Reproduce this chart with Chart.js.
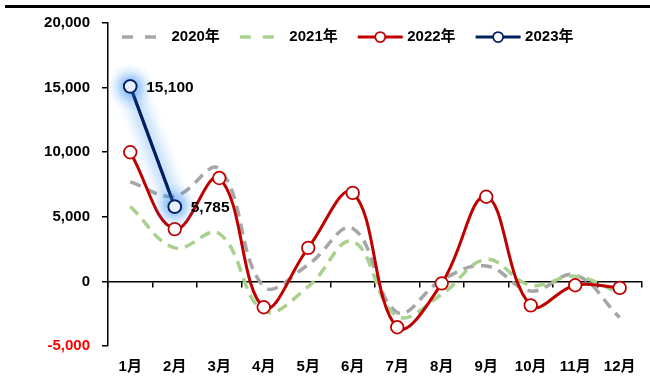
<!DOCTYPE html>
<html>
<head>
<meta charset="utf-8">
<script src="https://cdn.jsdelivr.net/npm/chart.js@4"></script>
<style>
  html, body { margin: 0; padding: 0; background: #fff; }
  #wrap { position: relative; width: 650px; height: 376px; overflow: hidden; }
  #wrap canvas { position: absolute; left: 0; top: 0; }
  #rule { position: absolute; left: 5px; right: 0; top: 5px; height: 2.5px; background: #000; }
</style>
</head>
<body>
<div id="wrap">
  <canvas id="chart" width="650" height="376"></canvas>
  <div id="rule"></div>
</div>
<script>
// Categories and series
const months = ['1月', '2月', '3月', '4月', '5月', '6月', '7月', '8月', '9月', '10月', '11月', '12月'];
const yearNames = ['2020年', '2021年', '2022年', '2023年'];
const values2020 = [7700, 6600, 8700, -400, 1300, 4100, -2400, 100, 1200, -750, 500, -2800];
const values2021 = [5800, 2600, 3700, -2300, -400, 3100, -2700, -1000, 1700, -300, 400, -900];
const values2022 = [10000, 4050, 8000, -2000, 2600, 6850, -3550, -150, 6550, -1850, -300, -500];
const values2023 = [15100, 5785];

// Value axis range
const yMin = -5000;
const yMax = 20000;
const yStep = 5000;

const FONT = '"Liberation Sans", "Noto Sans CJK SC", Arial, sans-serif';
const fmt = v => Number(v).toLocaleString('en-US');

const GRAY = '#A6A6A6';
const GREEN = '#A9D18E';
const RED = '#C00000';
const NAVY = '#002060';

// Soft blue halo behind the 2023 series (drawn twice for a fuller glow)
const glowPlugin = {
  id: 'glow',
  beforeDatasetDraw(chart, args) {
    if (args.index !== 3) return;
    const ctx = chart.ctx;
    ctx.save();
    ctx.shadowColor = 'rgba(70,150,235,1)';
    ctx.shadowBlur = 16;
  },
  afterDatasetDraw(chart, args) {
    if (args.index !== 3) return;
    args.meta.controller.draw();
    chart.ctx.restore();
  }
};

// Value labels beside the 2023 points
const valueLabels = {
  id: 'valueLabels',
  afterDatasetsDraw(chart) {
    const ctx = chart.ctx;
    const meta = chart.getDatasetMeta(3);
    const data = chart.data.datasets[3].data;
    ctx.save();
    ctx.font = 'bold 15.5px ' + FONT;
    ctx.fillStyle = '#000';
    ctx.textAlign = 'left';
    ctx.textBaseline = 'middle';
    meta.data.forEach((pt, i) => {
      ctx.fillText(fmt(data[i]), pt.x + 16, pt.y + 1);
    });
    ctx.restore();
  }
};

// The legend takes no room of its own: it floats over the top of the plot
const legendFloat = {
  id: 'legendFloat',
  afterInit(chart) {
    const lg = chart.legend;
    if (!lg || lg._floatPatched) return;
    const fit = lg.fit;
    lg.fit = function () {
      fit.call(this);
      this.height = 0;
    };
    lg._floatPatched = true;
  },
  afterLayout(chart) {
    const lg = chart.legend;
    if (!lg) return;
    lg.left = 102;
    lg.right = 650;
    lg.top = 9.5;
    lg.bottom = 60;
    lg.width = lg.right - lg.left;
    lg.height = lg.bottom - lg.top;
  }
};

// Line samples for the legend entries
const legendSamples = {
  id: 'legendSamples',
  afterDraw(chart) {
    const lg = chart.legend;
    if (!lg || !lg.legendHitBoxes) return;
    const ctx = chart.ctx;
    lg.legendHitBoxes.forEach((hb, i) => {
      const ds = chart.data.datasets[i];
      const cy = hb.top + hb.height / 2;
      ctx.save();
      ctx.strokeStyle = ds.borderColor;
      ctx.lineWidth = ds.borderWidth;
      if (ds.borderDash && ds.borderDash.length) {
        ctx.setLineDash([11, 12]);
        ctx.beginPath();
        ctx.moveTo(hb.left, cy);
        ctx.lineTo(hb.left + 36, cy);
        ctx.stroke();
      } else {
        ctx.beginPath();
        ctx.moveTo(hb.left, cy);
        ctx.lineTo(hb.left + 45, cy);
        ctx.stroke();
        ctx.beginPath();
        ctx.arc(hb.left + 22.5, cy, 5, 0, Math.PI * 2);
        ctx.fillStyle = '#fff';
        ctx.fill();
        ctx.lineWidth = 1.75;
        ctx.stroke();
      }
      ctx.restore();
    });
  }
};

const ctx = document.getElementById('chart').getContext('2d');
new Chart(ctx, {
  type: 'line',
  data: {
    labels: months,
    datasets: [
      {
        label: yearNames[0], data: values2020, order: 4,
        borderColor: GRAY, borderWidth: 3.5, borderDash: [11, 7],
        pointRadius: 0, tension: 0.4, fill: false
      },
      {
        label: yearNames[1], data: values2021, order: 3,
        borderColor: GREEN, borderWidth: 3.5, borderDash: [11, 7],
        pointRadius: 0, tension: 0.4, fill: false
      },
      {
        label: yearNames[2], data: values2022, order: 2,
        borderColor: RED, borderWidth: 3,
        pointRadius: 6.3, pointBorderWidth: 1.75, pointBackgroundColor: '#fff', pointBorderColor: RED,
        tension: 0.4, fill: false
      },
      {
        label: yearNames[3], data: values2023, order: 1,
        borderColor: NAVY, borderWidth: 3,
        pointRadius: 6.3, pointBorderWidth: 1.75, pointBackgroundColor: '#fff', pointBorderColor: NAVY,
        tension: 0, fill: false
      }
    ]
  },
  options: {
    responsive: false,
    animation: false,
    devicePixelRatio: 1,
    layout: { padding: { top: 23, right: 0, bottom: 0, left: 0 } },
    font: { family: FONT },
    plugins: {
      tooltip: { enabled: false },
      legend: {
        position: 'top',
        align: 'start',
        labels: {
          boxWidth: 42,
          padding: 20,
          color: '#000',
          font: { family: FONT, size: 15, weight: 'bold' },
          generateLabels(chart) {
            return chart.data.datasets.map((ds, i) => ({
              text: ds.label,
              fillStyle: 'rgba(0,0,0,0)',
              strokeStyle: 'rgba(0,0,0,0)',
              lineWidth: 0,
              hidden: false,
              datasetIndex: i,
              fontColor: '#000'
            }));
          }
        }
      }
    },
    scales: {
      x: {
        type: 'category',
        position: 'bottom',
        offset: true,
        grid: { display: false, drawTicks: false },
        border: { display: false },
        ticks: {
          color: '#000', padding: 12, maxRotation: 0, autoSkip: false,
          font: { family: FONT, size: 15, weight: 'bold' }
        },
        afterFit(scale) { scale.height = 30; }
      },
      xZero: {
        type: 'category',
        labels: months,
        position: { y: 0 },
        offset: true,
        grid: { display: true, drawOnChartArea: false, offset: true, tickLength: 5, color: '#000', lineWidth: 1.5 },
        border: { display: true, color: '#000', width: 1.5 },
        ticks: { display: false }
      },
      y: {
        min: yMin, max: yMax,
        grid: { display: true, drawOnChartArea: false, tickLength: 6, color: '#000', lineWidth: 1.5 },
        border: { display: true, color: '#000', width: 1.5 },
        ticks: {
          stepSize: yStep,
          padding: 12,
          font: { family: FONT, size: 15, weight: 'bold' },
          color: c => (c.tick && c.tick.value < 0 ? '#FF0000' : '#000'),
          callback: v => fmt(v)
        },
        afterFit(scale) { scale.width = 108; }
      }
    }
  },
  plugins: [legendFloat, glowPlugin, valueLabels, legendSamples]
});
</script>
</body>
</html>
